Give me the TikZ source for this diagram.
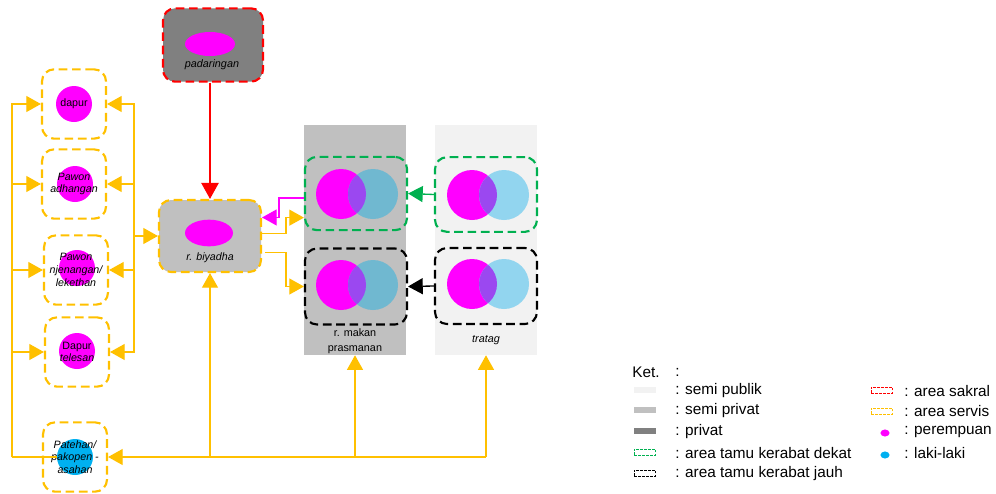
\documentclass[tikz,border=0pt]{standalone}
\usepackage{fontspec}
\setmainfont{Liberation Sans}
\usetikzlibrary{arrows.meta,calc,shapes.geometric}

\definecolor{servis}{HTML}{FFC000}
\definecolor{sakral}{HTML}{FF0000}
\definecolor{dekat}{HTML}{00B050}
\definecolor{semipublik}{HTML}{F2F2F2}
\definecolor{semiprivat}{HTML}{C0C0C0}
\definecolor{privat}{HTML}{808080}
\definecolor{perempuan}{HTML}{FF00FF}
\definecolor{laki}{HTML}{00B0F0}
\definecolor{lakiM}{HTML}{70B8D0}
\definecolor{lakiT}{HTML}{92D5EF}
\definecolor{irisan}{HTML}{9B48F0}

\tikzset{
    area/.style={rounded corners=9pt, line width=1.6pt, dash pattern=on 6.5pt off 3.5pt},
    servbox/.style={area, draw=servis, minimum width=48pt, minimum height=52pt},
    zone/.style={minimum height=172.5pt, inner sep=0pt},
    lbl/.style={font=\fontsize{8}{9.5}\selectfont, align=center, inner sep=0pt},
    legend/.style={font=\fontsize{11.5}{14}\selectfont, anchor=west, inner sep=0pt},
    swatch/.style={minimum width=16pt, minimum height=4.5pt, inner sep=0pt},
    dswatch/.style={swatch, line width=0.4pt, dash pattern=on 2pt off 1pt},
    link/.style={draw=servis, line width=1pt, -{Triangle[length=11pt,width=12pt]}},
}

\begin{document}
\begin{tikzpicture}[x=0.75pt,y=-0.75pt]
    \useasboundingbox (0,0) rectangle (996,493);

    % dining hall and tratag zones
    \node[zone, fill=semiprivat, minimum width=76pt] (makan) at (355,240) {};
    \node[zone, fill=semipublik, minimum width=77pt] (tratag) at (486,240) {};
    \node[lbl, font=\fontsize{8.1}{11}\selectfont] (makanlbl) at (355,341) {r. makan\\prasmanan};
    \node[lbl, font=\fontsize{8.1}{11}\selectfont\itshape] (tratlbl) at (486,340) {tratag};

    % guests: women and men
    \foreach \x/\y/\c in {341/194/lakiM, 341/285/lakiM, 472/195/lakiT, 472/284/lakiT} {
        \fill[perempuan] (\x,\y) circle (25);
        \fill[fill=\c] (\x+32,\y) circle (25);
        \begin{scope}
            \clip (\x,\y) circle (25);
            \fill[irisan] (\x+32,\y) circle (25);
        \end{scope}
    }
    \node[area, draw=dekat, minimum width=76.5pt, minimum height=55pt] (dekatM) at (356,193.5) {};
    \node[area, draw=black, minimum width=76.5pt, minimum height=57pt] (jauhM) at (356,286.5) {};
    \node[area, draw=dekat, minimum width=76.5pt, minimum height=56pt] (dekatT) at (486,194.5) {};
    \node[area, draw=black, minimum width=76.5pt, minimum height=57pt] (jauhT) at (486,286) {};

    % padaringan and biyadha
    \node[area, draw=sakral, fill=privat, minimum width=75pt, minimum height=55pt] (padaringan) at (213,45) {};
    \node[ellipse, fill=perempuan, minimum width=37.5pt, minimum height=18pt, inner sep=0pt] (padE) at (210,44) {};
    \node[lbl, font=\fontsize{8.1}{9.5}\selectfont\itshape] (padlbl) at (212,65) {padaringan};
    \node[area, draw=servis, fill=semiprivat, minimum width=76.5pt, minimum height=54pt] (biyadha) at (210,236) {};
    \node[ellipse, fill=perempuan, minimum width=36pt, minimum height=20pt, inner sep=0pt] (biyE) at (209,233) {};
    \node[lbl, font=\fontsize{8}{9.5}\selectfont\itshape] (biylbl) at (210,258) {r. biyadha};

    % service rooms
    \foreach \n/\x/\y/\c in {dapurC/74/104/perempuan, adhC/75/184/perempuan, njenC/77/268/perempuan,
                             telC/77/351/perempuan, patC/75/457/laki} {
        \node[circle, fill=\c, minimum size=27pt, inner sep=0pt] (\n) at (\x,\y) {};
    }
    \node[servbox, lbl] (dapur) at (74,104) {dapur};
    \node[servbox, lbl] (adhangan) at (74,184) {\itshape Pawon\\\itshape adhangan};
    \node[servbox, lbl] (njenangan) at (76,270) {\itshape Pawon\\\itshape njenangan/\\\itshape lekethan};
    \node[servbox, lbl] (telesan) at (77,352) {Dapur\\\itshape telesan};
    \node[servbox, lbl] (patehan) at (75,457) {\itshape Patehan/\\\itshape pakopen -\\\itshape asahan};

    \coordinate (busL) at (12,457);
    \coordinate (busR) at (134,236);

    % connections
    \draw[draw=sakral, line width=1pt, -{Triangle[length=12pt,width=13pt]}] (padaringan.south -| biyadha.north) -- (biyadha.north);
    \draw[servis, line width=1pt] (patC.west) -- (busL);
    \foreach \b in {dapur,adhangan,njenangan,telesan} {
        \draw[link] (busL) |- (\b.west);
        \draw[link] (busR) |- (\b.east);
    }
    \draw[link] (busR) -- (biyadha.west);
    \draw[link] (tratag.south |- busL) -- (patehan.east);
    \draw[link] (tratag.south |- busL) -- (tratag.south);
    \draw[link] (makan.south |- busL) -- (makan.south);
    \draw[link] (biyadha.south |- busL) -- (biyadha.south);
    \draw[link] ($(biyadha.north east)!0.47!(biyadha.south east)$) -- ++(24,0) |- ($(dekatM.north west)!0.82!(dekatM.south west)$);
    \draw[link] ($(biyadha.north east)!0.72!(biyadha.south east)+(3,0)$) -- ++(21,0) |- (jauhM.west);
    \draw[draw=perempuan, line width=1pt, -{Triangle[length=11pt,width=12pt]}]
        ($(dekatM.north west)!0.56!(dekatM.south west)$) -- ++(-25,0) |- ($(biyadha.north east)!0.25!(biyadha.south east)$);
    \draw[draw=dekat, line width=1pt, -{Triangle[length=11pt,width=12pt]}] (dekatT.west) -- (dekatM.east);
    \draw[draw=black, line width=1pt, -{Triangle[length=11pt,width=12pt]}] (jauhT.west) -- (jauhM.east);

    % legend
    \node[legend] (ket) at (632,372) {Ket.};
    \node[legend] (ketc) at (675,372) {:};
    \node[swatch, fill=semipublik] (sw1) at (645,390) {};
    \node[swatch, fill=semiprivat] (sw2) at (645,410) {};
    \node[swatch, fill=privat] (sw3) at (645,431) {};
    \node[dswatch, draw=dekat] (sw4) at (645,452) {};
    \node[dswatch, draw=black] (sw5) at (645,473) {};
    \node[legend] (tx1) at (675,391) {: semi publik};
    \node[legend] (tx2) at (675,411) {: semi privat};
    \node[legend] (tx3) at (675,432) {: privat};
    \node[legend] (tx4) at (675,453) {: area tamu kerabat dekat};
    \node[legend] (tx5) at (675,474) {: area tamu kerabat jauh};
    \node[dswatch, draw=sakral] (sw6) at (882,390) {};
    \node[dswatch, draw=servis] (sw7) at (882,411) {};
    \node[ellipse, fill=perempuan, minimum width=6.8pt, minimum height=5.3pt, inner sep=0pt] (sw8) at (885,433) {};
    \node[ellipse, fill=laki, minimum width=6.8pt, minimum height=5.3pt, inner sep=0pt] (sw9) at (885,455) {};
    \node[legend] (tx6) at (904,391) {: area sakral};
    \node[legend] (tx7) at (904,411) {: area servis};
    \node[legend] (tx8) at (904,432) {: perempuan};
    \node[legend] (tx9) at (904,453) {: laki-laki};
\end{tikzpicture}
\end{document}
